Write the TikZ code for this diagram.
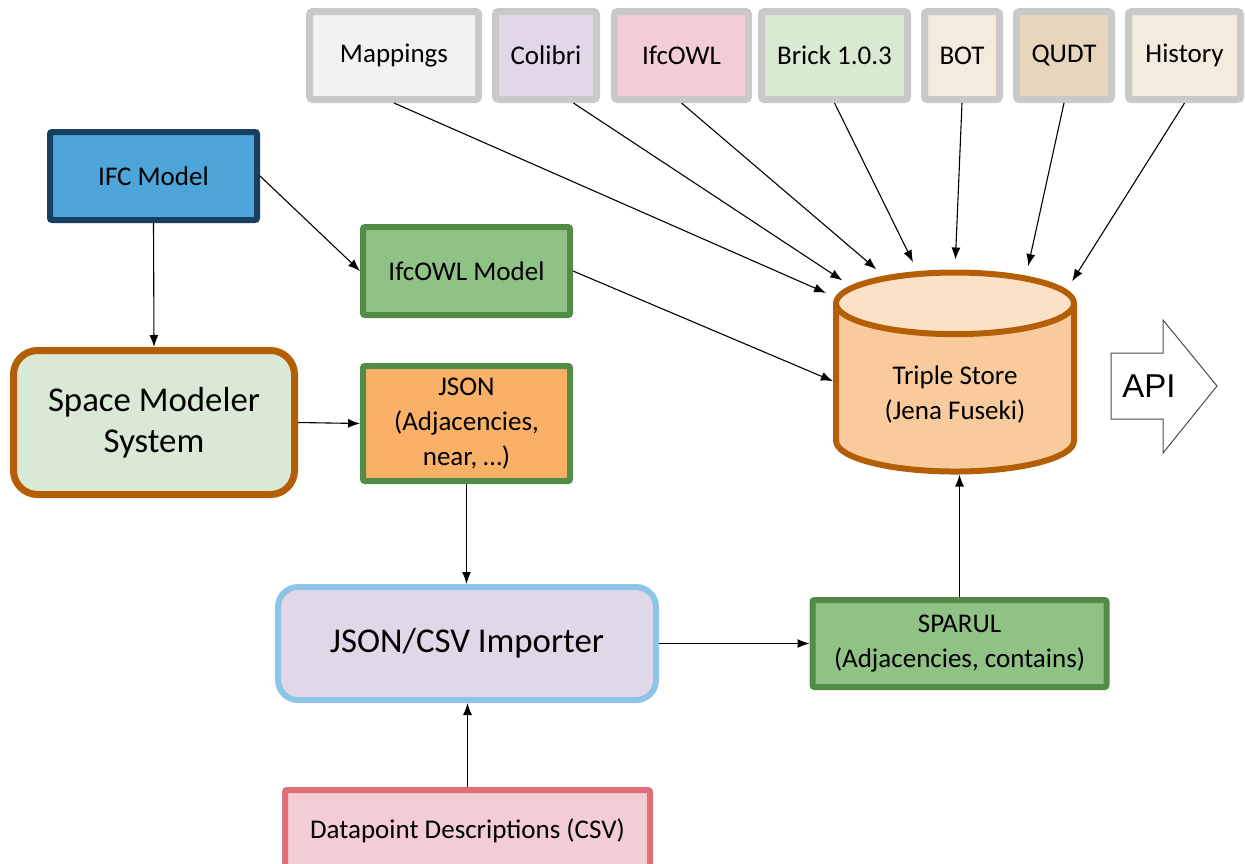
\documentclass[tikz,border=0pt]{standalone}
\usepackage{fontspec}
\setmainfont{Carlito}
\newfontfamily\apifont{Liberation Sans}
\usetikzlibrary{arrows.meta,shapes.geometric}

\definecolor{tagline}{HTML}{C9C9C9}
\definecolor{mapfill}{HTML}{F2F2F2}
\definecolor{colfill}{HTML}{E1D7E9}
\definecolor{owltag}{HTML}{F2CDD3}
\definecolor{brkfill}{HTML}{D9EAD3}
\definecolor{botfill}{HTML}{F3EBDD}
\definecolor{qdtfill}{HTML}{E6D5BA}
\definecolor{ifcfill}{HTML}{4EA5D9}
\definecolor{ifcline}{HTML}{173F5F}
\definecolor{grnfill}{HTML}{90C185}
\definecolor{grnline}{HTML}{538C46}
\definecolor{smsfill}{HTML}{DAE9D5}
\definecolor{brnline}{HTML}{B45F06}
\definecolor{jsonfill}{HTML}{F9B067}
\definecolor{impfill}{HTML}{E0D7E8}
\definecolor{impline}{HTML}{8DC5E8}
\definecolor{dpfill}{HTML}{F2CDD3}
\definecolor{dpline}{HTML}{E06E78}
\definecolor{storebody}{HTML}{F9CB9C}
\definecolor{storetop}{HTML}{FCE1C7}

\tikzset{
  txt/.style={font=\fontsize{13.5}{17.5}\selectfont},
  bigtxt/.style={font=\fontsize{17.4}{20.5}\selectfont},
  tag/.style={txt, draw=tagline, line width=3.5pt, rounded corners=1.5pt, minimum height=44pt, inner sep=0pt},
  box/.style={txt, draw=grnline, fill=grnfill, line width=3pt, rounded corners=1pt, align=center, inner sep=0pt},
  link/.style={-{Latex[length=6pt,width=4.5pt]}, line width=0.55pt},
}

\begin{document}
\begin{tikzpicture}[x=0.5pt,y=-0.5pt]
\useasboundingbox (0,0) rectangle (1245,863);
\foreach \id/\x/\w/\col/\lbl in {map/394/84.5/mapfill/Mappings, col/546/50.5/colfill/Colibri,
  ifcowl/681.5/67/owltag/IfcOWL, brk/834.5/73/brkfill/Brick 1.0.3, bot/962/37.5/botfill/BOT,
  qdt/1064/47.5/qdtfill/QUDT, his/1184.5/56/botfill/History}
  \node[tag, fill=\col, minimum width=\w pt] (\id) at (\x,55.5) {\lbl};

\node[box, draw=ifcline, fill=ifcfill, minimum width=103.5pt, minimum height=44pt] (ifc) at (153.5,176) {IFC Model};
\node[box, minimum width=103.5pt, minimum height=44pt] (owl) at (466.5,271) {IfcOWL Model};
\node[box, bigtxt, draw=brnline, fill=smsfill, line width=3.5pt, rounded corners=12pt, minimum width=140.5pt, minimum height=72pt] (sms) at (154,422.5) {Space Modeler\\System};
\node[box, fill=jsonfill, minimum width=103.5pt, minimum height=57.5pt] (json) at (466.5,423.5) {JSON\\(Adjacencies,\\near, \dots)};
\node[box, bigtxt, draw=impline, fill=impfill, rounded corners=10pt, minimum width=189pt, minimum height=56.5pt] (imp) at (467,643.5) {JSON/CSV Importer};
\node[box, minimum width=147pt, minimum height=43.5pt] (sparul) at (959.5,643.5) {SPARUL\\(Adjacencies, contains)};
\node[box, draw=dpline, fill=dpfill, minimum width=182.5pt, minimum height=41pt] (dp) at (467.5,831) {Datapoint Descriptions (CSV)};

\node[txt, cylinder, shape border rotate=90, draw=brnline, line width=3pt, cylinder uses custom fill,
  cylinder body fill=storebody, cylinder end fill=storetop, aspect=0.4, minimum width=119pt,
  minimum height=99.5pt, align=center] (ts) at (955,394) {Triple Store\\(Jena Fuseki)};

\draw[line width=0.5pt, draw=black!70, fill=white] (1111,353) -- (1163,353) -- (1163,320) -- (1217,386)
  -- (1163,453) -- (1163,419) -- (1111,419) -- cycle;
\node[font=\apifont\fontsize{16.5}{18}\selectfont] (api) at (1149,386) {API};

\foreach \id/\s/\t in {map/south/141.9, col/-60/134.3, ifcowl/south/121, brk/south/107.4,
  bot/south/90, qdt/south/59.9, his/south/43.1}
  \draw[link, shorten >=5pt] (\id.\s) -- (ts.\t);
\draw[link] (ifc.east) -- (owl.west);
\draw[link] (ifc.south) -- (sms.north);
\draw[link] (owl.east) -- (ts.174);
\draw[link] (sms.east) -- (json.west);
\draw[link] (json.south) -- (imp.north -| json.south);
\draw[link] (imp.east) -- (sparul.west);
\draw[link] (sparul.north) -- (sparul.north |- ts.south);
\draw[link] (dp.north) -- (imp.south -| dp.north);
\end{tikzpicture}
\end{document}
